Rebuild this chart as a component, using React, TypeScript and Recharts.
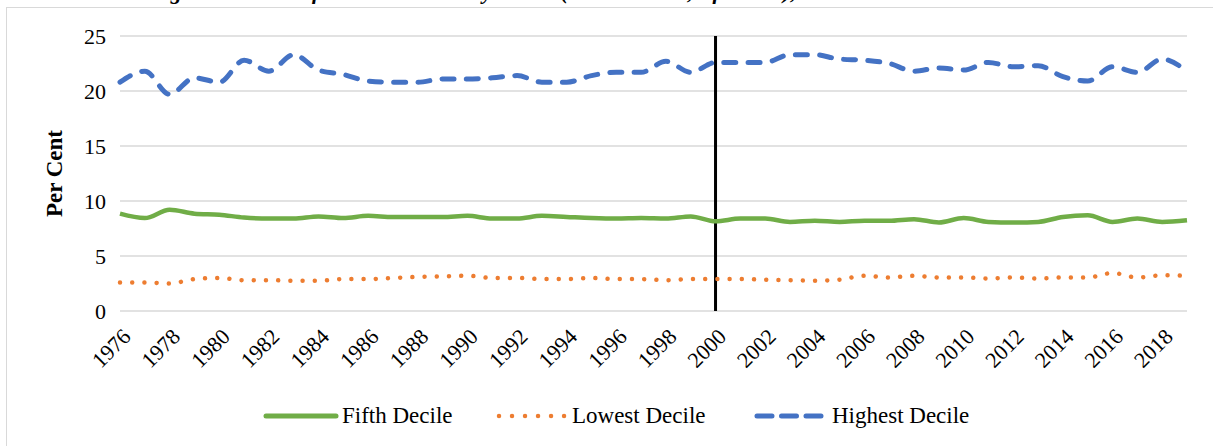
import { LineChart, Line, XAxis, YAxis, CartesianGrid, ReferenceLine, Label } from 'recharts';

const FONT = '"Liberation Serif", "Times New Roman", serif';

const years = [
  1976, 1977, 1978, 1979, 1980, 1981, 1982, 1983, 1984, 1985, 1986, 1987, 1988, 1989, 1990,
  1991, 1992, 1993, 1994, 1995, 1996, 1997, 1998, 1999, 2000, 2001, 2002, 2003, 2004, 2005,
  2006, 2007, 2008, 2009, 2010, 2011, 2012, 2013, 2014, 2015, 2016, 2017, 2018, 2019,
];

const fifthDecile = [
  8.85, 8.45, 9.2, 8.85, 8.75, 8.5, 8.4, 8.4, 8.6, 8.45, 8.65, 8.55, 8.55, 8.55, 8.65,
  8.4, 8.4, 8.65, 8.55, 8.45, 8.4, 8.45, 8.4, 8.6, 8.15, 8.4, 8.4, 8.1, 8.2, 8.1,
  8.2, 8.2, 8.35, 8.05, 8.45, 8.1, 8.05, 8.1, 8.55, 8.7, 8.1, 8.4, 8.1, 8.25,
];

const lowestDecile = [
  2.6, 2.6, 2.5, 2.9, 3.0, 2.8, 2.8, 2.75, 2.75, 2.9, 2.9, 3.0, 3.1, 3.15, 3.2,
  3.0, 3.0, 2.9, 2.9, 3.0, 2.9, 2.9, 2.8, 2.9, 2.9, 2.9, 2.85, 2.8, 2.75, 2.85,
  3.2, 3.05, 3.2, 3.05, 3.05, 2.95, 3.05, 2.95, 3.05, 3.05, 3.45, 3.05, 3.25, 3.2,
];

const highestDecile = [
  20.8, 21.8, 19.7, 21.2, 20.8, 22.8, 21.8, 23.3, 21.9, 21.5, 20.9, 20.8, 20.8, 21.1, 21.1,
  21.2, 21.4, 20.8, 20.8, 21.4, 21.7, 21.7, 22.7, 21.7, 22.6, 22.6, 22.6, 23.3, 23.3, 22.9,
  22.8, 22.5, 21.8, 22.1, 21.9, 22.6, 22.2, 22.3, 21.3, 20.9, 22.2, 21.7, 22.9, 21.8,
];

const yTicks = [0, 5, 10, 15, 20, 25];

const data = years.map((year, i) => ({
  year,
  fifth: fifthDecile[i],
  lowest: lowestDecile[i],
  highest: highestDecile[i],
}));

const COLORS = { fifth: '#70ad47', lowest: '#ed7d31', highest: '#4472c4' };

function YearTick({ x, y, payload }: any) {
  const ax = x + 12;
  const ay = y + 19;
  return (
    <text
      x={ax}
      y={ay}
      textAnchor="end"
      transform={`rotate(-45, ${ax}, ${ay})`}
      fontFamily={FONT}
      fontSize={22}
      fill="#000"
    >
      {payload.value}
    </text>
  );
}

function LegendBox() {
  const item = (left: number, sample: any, textLeft: number, text: string) => (
    <div key={text}>
      <svg style={{ position: 'absolute', left, top: 406 }} width={80} height={20}>
        {sample}
      </svg>
      <span
        style={{
          position: 'absolute',
          left: textLeft,
          top: 402,
          fontFamily: FONT,
          fontSize: 23,
          lineHeight: '28px',
          color: '#000',
          whiteSpace: 'nowrap',
        }}
      >
        {text}
      </span>
    </div>
  );
  return (
    <div>
      {item(
        263,
        <line x1={3} y1={10} x2={73} y2={10} stroke={COLORS.fifth} strokeWidth={5} strokeLinecap="round" />,
        342,
        'Fifth Decile'
      )}
      {item(
        495,
        <line
          x1={4} y1={10} x2={70} y2={10}
          stroke={COLORS.lowest} strokeWidth={4.5} strokeLinecap="round" strokeDasharray="0.01 13"
        />,
        572,
        'Lowest Decile'
      )}
      {item(
        753,
        <line
          x1={4} y1={10} x2={70} y2={10}
          stroke={COLORS.highest} strokeWidth={5} strokeLinecap="round" strokeDasharray="15 9.5"
        />,
        832,
        'Highest Decile'
      )}
    </div>
  );
}

export default function App() {
  return (
    <div style={{ position: 'absolute', left: 0, top: 0, width: 1213, height: 446, overflow: 'hidden', background: '#fff' }}>
      <div
        style={{
          position: 'absolute',
          left: 150,
          top: -21,
          fontFamily: FONT,
          fontSize: 22,
          fontWeight: 'bold',
          fontStyle: 'italic',
          whiteSpace: 'nowrap',
        }}
      >
        Figure 1: Share of Income Earned by Decile (Total Income, After Tax), Economic Families
      </div>
      <div
        style={{
          position: 'absolute',
          left: 6,
          top: 7,
          width: 1240,
          height: 460,
          border: '1.5px solid #d9d9d9',
        }}
      />
      <div style={{ position: 'absolute', left: 0, top: 0 }}>
        <LineChart width={1213} height={446} data={data} margin={{ top: 36, right: 26, bottom: 75, left: 60 }}>
          <CartesianGrid vertical={false} stroke="#d9d9d9" strokeWidth={1.5} />
          <XAxis
            dataKey="year"
            type="category"
            interval={1}
            axisLine={false}
            tickLine={false}
            tick={<YearTick />}
            height={60}
          />
          <YAxis
            domain={[0, 25]}
            ticks={yTicks}
            width={60}
            axisLine={false}
            tickLine={false}
            tick={{ fontFamily: FONT, fontSize: 22, fill: '#000' }}
            tickMargin={8}
          >
            <Label
              value="Per Cent"
              angle={-90}
              position="insideLeft"
              offset={0}
              dx={-6}
              style={{ fontFamily: FONT, fontSize: 23, fontWeight: 'bold', fill: '#000', textAnchor: 'middle' }}
            />
          </YAxis>
          <ReferenceLine x={2000} stroke="#000" strokeWidth={3} />
          <Line
            type="monotone"
            dataKey="fifth"
            name="Fifth Decile"
            stroke={COLORS.fifth}
            strokeWidth={4.5}
            dot={false}
            isAnimationActive={false}
          />
          <Line
            type="monotone"
            dataKey="lowest"
            name="Lowest Decile"
            stroke={COLORS.lowest}
            strokeWidth={4.5}
            strokeDasharray="0.01 12.2"
            strokeLinecap="round"
            dot={false}
            isAnimationActive={false}
          />
          <Line
            type="monotone"
            dataKey="highest"
            name="Highest Decile"
            stroke={COLORS.highest}
            strokeWidth={5}
            strokeDasharray="12 12.3"
            strokeLinecap="round"
            dot={false}
            isAnimationActive={false}
          />
        </LineChart>
      </div>
      <LegendBox />
    </div>
  );
}
